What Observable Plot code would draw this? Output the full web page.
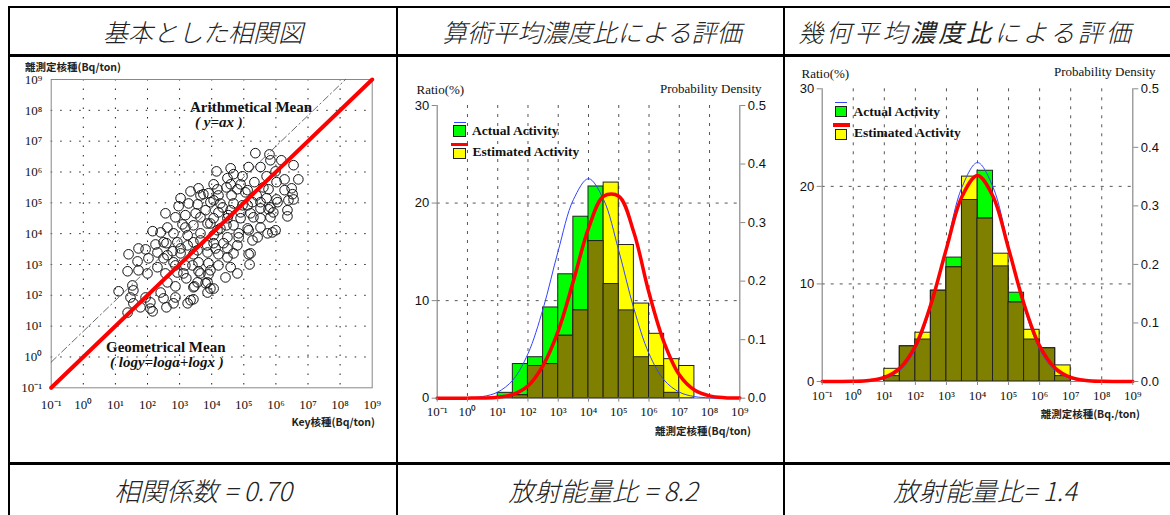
<!DOCTYPE html>
<html><head><meta charset="utf-8">
<script src="https://cdn.jsdelivr.net/npm/d3@7"></script>
<script src="https://cdn.jsdelivr.net/npm/@observablehq/plot@0.6"></script>
<style>
body{margin:0;background:#fff;}
#root{position:relative;width:1170px;height:515px;overflow:hidden;background:#fff;font-family:"Liberation Serif",serif;}
.t{position:absolute;white-space:nowrap;line-height:1;}
</style></head>
<body><div id="root"></div>
<script>
// ---------- DATA ----------
// panel 1: correlation scatter (log10 values)
const scatterKeyLog = [5.36,5.80,5.83,6.17,6.55,4.59,5.15,5.52,4.15,5.99,4.68,4.96,5.71,6.27,6.70,4.49,5.33,6.02,4.06,4.59,4.90,4.46,5.61,6.49,3.34,3.59,3.90,4.18,4.80,5.12,5.77,6.27,6.52,6.02,6.55,5.52,5.40,4.62,5.05,5.71,6.39,3.65,3.96,4.27,4.68,5.12,3.03,2.97,3.56,3.81,4.21,4.59,4.90,5.52,5.77,6.36,6.36,6.05,3.28,4.06,4.34,4.96,5.27,5.83,2.56,2.87,3.18,3.50,4.52,5.21,5.92,5.52,3.65,4.06,4.49,4.90,5.30,5.83,2.62,3.09,3.43,3.87,4.27,4.68,5.12,5.52,5.99,2.16,2.41,2.81,3.25,3.65,4.06,4.49,4.84,5.43,5.74,4.18,1.41,1.72,1.94,2.25,2.50,2.93,3.25,3.65,4.06,4.49,4.80,5.15,2.31,2.62,3.03,3.43,3.87,4.21,4.68,1.69,2.03,5.27,2.78,3.56,4.37,2.50,2.81,3.18,3.59,3.90,4.21,1.38,2.00,2.31,2.56,2.87,3.12,3.40,3.65,3.96,4.49,4.59,4.80,5.18,4.43,1.72,2.93,3.21,3.56,3.87,3.96,3.43,1.53,1.56,1.10,1.47,1.56,1.38,1.94,2.09,2.16,2.41,2.50,2.59,2.81,2.62,2.87,3.25,3.43,3.46,3.87,3.81,2.87,4.06,3.74,4.21,3.96,3.18,4.46,4.84,5.15,5.89,3.03,4.12,3.43,3.86,5.21,1.78,2.09,3.34,3.59,3.90,2.59];
const scatterNucLog = [6.61,6.57,6.38,6.38,6.22,6.12,6.16,6.16,6.02,6.02,5.93,5.86,5.86,5.76,5.76,5.80,5.67,5.67,5.60,5.60,5.60,5.50,5.50,5.47,5.37,5.47,5.31,5.44,5.44,5.41,5.44,5.41,5.28,5.11,5.11,5.02,5.24,5.24,5.34,5.15,5.08,5.24,5.02,4.98,4.98,4.92,5.15,4.89,4.95,4.76,4.69,4.76,4.69,4.82,4.79,4.76,4.56,5.02,4.98,5.08,4.85,4.92,5.02,4.85,4.66,4.53,4.60,4.66,4.60,4.66,4.69,4.50,4.53,4.50,4.50,4.50,4.53,4.53,4.20,4.30,4.27,4.33,4.17,4.27,4.17,4.20,4.11,4.08,4.04,4.01,3.95,4.01,3.95,3.88,3.88,3.88,4.01,4.11,3.33,3.52,3.49,3.65,3.72,3.72,3.62,3.78,3.69,3.52,3.62,3.33,3.39,3.30,3.36,3.33,3.39,3.33,3.36,3.10,3.20,3.78,3.43,3.46,3.69,3.20,3.07,2.97,3.07,3.04,2.97,2.78,2.71,2.91,2.71,2.97,2.71,2.97,2.71,2.81,3.23,2.91,2.71,3.00,2.58,2.81,2.74,2.55,2.42,2.42,2.22,2.26,2.32,2.16,2.13,1.93,1.74,1.44,1.93,1.57,1.48,2.09,1.90,1.61,1.74,2.42,2.29,1.74,1.87,2.29,2.09,2.39,1.93,2.22,5.28,5.24,4.33,4.20,4.27,4.01,4.11,4.04,3.52,3.52,3.72,3.62,3.36,1.61,1.77,1.84,2.78,2.68,3.69];
const arithRatio = 6.8;   // dash-dot line  y = a x
const geoRatio = 1.0;     // red line       log y = log a + log x

// histogram bins: lower edges in log10 (half-decade wide), ratios in %
const binLowLog = [1,1.5,2,2.5,3,3.5,4,4.5,5,5.5,6,6.5,7];
const arithActual    = [0.55,3.5,4.2,9.3,12.7,18.6,21.7,11.7,9.0,4.2,3.3,0.55,0];
const arithEstimated = [0,0.3,3.3,3.5,6.4,9.0,16.1,22.1,15.7,9.7,6.6,4.0,3.3];
const geoActual      = [0.55,3.6,4.3,9.3,12.7,18.6,21.6,11.8,9.1,4.3,3.4,0.55,0];
const geoEstimated   = [1.3,3.6,5.0,9.3,11.7,21.0,16.7,13.1,8.1,5.3,3.4,1.65,0];

// probability density curves sampled every half decade
const curveLog = [-1,-0.5,0,0.5,1,1.5,2,2.5,3,3.5,4,4.5,5,5.5,6,6.5,7,7.5,8,8.5,9];
const arithActualDensity    = [0,0.0001,0.0006,0.0028,0.0104,0.031,0.076,0.153,0.252,0.339,0.375,0.339,0.252,0.153,0.076,0.031,0.0104,0.0028,0.0006,0.0001,0];
const arithEstimatedDensity = [0,0,0.0001,0.0004,0.0017,0.0064,0.021,0.056,0.115,0.200,0.290,0.345,0.345,0.283,0.180,0.095,0.040,0.014,0.0040,0.0009,0.0002];
const geoActualDensity      = [0,0,0.0002,0.0010,0.0049,0.0186,0.055,0.127,0.231,0.332,0.374,0.332,0.231,0.127,0.055,0.0186,0.0049,0.0010,0.0002,0,0];
const geoEstimatedDensity   = [0,0.0001,0.0003,0.0017,0.0069,0.023,0.061,0.132,0.227,0.316,0.352,0.316,0.227,0.132,0.061,0.023,0.0069,0.0017,0.0003,0.0001,0];

const decadeExps = [-1,0,1,2,3,4,5,6,7,8,9];
const ratioTicks = [0,10,20,30];
const densityTicks = [0,0.1,0.2,0.3,0.4,0.5];

const headers = ["基本とした相関図", "算術平均濃度比による評価", "幾何平均<b>濃度比</b>による評価"];
const footers = ["相関係数 = 0.70", "放射能量比 = 8.2", "放射能量比= 1.4"];

// ---------- HELPERS ----------
const root = document.getElementById("root");
const sup = {"-":"⁻","0":"⁰","1":"¹","2":"²","3":"³","4":"⁴","5":"⁵","6":"⁶","7":"⁷","8":"⁸","9":"⁹"};
const fmtPow = v => "10" + String(Math.round(Math.log10(v))).split("").map(c => sup[c]).join("");
const decades = decadeExps.map(e => Math.pow(10, e));
const inner = decades.slice(1, -1);
const densScale = 60; // 0.5 density == 30 %

function addText(html, x, y, css, anchor) {
  const d = document.createElement("div");
  d.className = "t";
  d.innerHTML = html;
  const tx = anchor === "middle" ? "-50%" : anchor === "end" ? "-100%" : "0";
  d.style.left = x + "px"; d.style.top = y + "px";
  d.style.transform = `translate(${tx},-50%)`;
  Object.assign(d.style, css || {});
  root.appendChild(d);
  return d;
}
function addBox(x, y, w, h, css) {
  const d = document.createElement("div");
  d.style.position = "absolute"; d.style.boxSizing = "border-box";
  d.style.left = x + "px"; d.style.top = y + "px"; d.style.width = w + "px"; d.style.height = h + "px";
  Object.assign(d.style, css || {});
  root.appendChild(d);
  return d;
}
function place(svg, x, y) {
  svg.style.position = "absolute"; svg.style.left = x + "px"; svg.style.top = y + "px";
  root.appendChild(svg);
}

// ---------- PANEL 1 ----------
const corr = scatterKeyLog.map((k, i) => ({x: Math.pow(10, k), y: Math.pow(10, scatterNucLog[i])}));
const arithLine = [{x: 0.1, y: 0.1 * arithRatio}, {x: 1e9 / arithRatio, y: 1e9}];
const geoLine = [{x: 0.1, y: 0.1 * geoRatio}, {x: 1e9 / geoRatio, y: 1e9}];

const p1 = Plot.plot({
  width: 375, height: 395,
  marginLeft: 40.7, marginRight: 13.3, marginTop: 19, marginBottom: 67.7,
  x: {type: "log", domain: [0.1, 1e9]},
  y: {type: "log", domain: [0.1, 1e9]},
  style: {fontFamily: "'Liberation Serif', serif", fontSize: "13px", background: "transparent", color: "#111"},
  marks: [
    Plot.ruleX(inner, {stroke: "#222", strokeDasharray: "1.5,8"}),
    Plot.ruleY(inner, {stroke: "#222", strokeDasharray: "1.5,8"}),
    Plot.frame({stroke: "#888"}),
    Plot.dot(corr, {x: "x", y: "y", r: 4.8, stroke: "#111", strokeWidth: 1, fill: "none"}),
    Plot.line(arithLine, {x: "x", y: "y", stroke: "#444", strokeWidth: 0.8, strokeDasharray: "7,3,1.5,3"}),
    Plot.line(geoLine, {x: "x", y: "y", stroke: "#ff0000", strokeWidth: 4}),
    Plot.axisX(decades, {tickFormat: fmtPow, tickSize: 0, tickPadding: 12, label: null}),
    Plot.axisY(decades, {tickFormat: fmtPow, tickSize: 0, tickPadding: 9, label: null})
  ]
});
place(p1, 10, 60);

// ---------- HISTOGRAM PANELS ----------
function histPanel(actual, estimated, actDens, estDens, size) {
  const bins = binLowLog.map((lo, i) => ({
    x1: Math.pow(10, lo), x2: Math.pow(10, lo + 0.5),
    a: actual[i], e: estimated[i], m: Math.min(actual[i], estimated[i])
  }));
  const cA = curveLog.map((l, i) => ({x: Math.pow(10, l), y: actDens[i] * densScale}));
  const cE = curveLog.map((l, i) => ({x: Math.pow(10, l), y: estDens[i] * densScale}));
  const zero = () => 0;
  return Plot.plot({
    ...size,
    x: {type: "log", domain: [0.1, 1e9]},
    y: {domain: [0, 30]},
    style: {fontFamily: "'Liberation Serif', serif", fontSize: "13px", background: "transparent", color: "#111"},
    marks: [
      Plot.ruleX(inner, {stroke: "#555", strokeDasharray: "3,6"}),
      Plot.ruleY([10, 20], {stroke: "#555", strokeDasharray: "3,6"}),
      Plot.rect(bins.filter(d => d.a > 0), {x1: "x1", x2: "x2", y1: zero, y2: "a", fill: "#00ff00", stroke: "#222", strokeWidth: 1}),
      Plot.rect(bins.filter(d => d.e > 0), {x1: "x1", x2: "x2", y1: zero, y2: "e", fill: "#ffff00", stroke: "#222", strokeWidth: 1}),
      Plot.rect(bins.filter(d => d.m > 0), {x1: "x1", x2: "x2", y1: zero, y2: "m", fill: "#808000", stroke: "#222", strokeWidth: 1}),
      Plot.ruleX([0.1, 1e9], {stroke: "#888", strokeWidth: 1.2}),
      Plot.ruleY([0], {stroke: "#888"}),
      Plot.line(cA, {x: "x", y: "y", stroke: "#3344ff", strokeWidth: 1, curve: "catmull-rom"}),
      Plot.line(cE, {x: "x", y: "y", stroke: "#ff0000", strokeWidth: 3.5, curve: "catmull-rom"}),
      Plot.axisX(decades, {tickFormat: fmtPow, tickSize: 4, tickPadding: 5, stroke: "#888", label: null}),
      Plot.axisY(ratioTicks, {anchor: "left", tickSize: 5, tickPadding: 3, stroke: "#888", label: null, fontFamily: "'Liberation Sans', sans-serif"}),
      Plot.axisY(densityTicks.map(d => d * densScale), {anchor: "right", tickSize: 5, tickPadding: 3, stroke: "#888", label: null,
        tickFormat: d => (d / densScale).toFixed(1), fontFamily: "'Liberation Sans', sans-serif"})
    ]
  });
}

const p2 = histPanel(arithActual, arithEstimated, arithActualDensity, arithEstimatedDensity,
  {width: 380, height: 395, marginLeft: 36.7, marginRight: 40.7, marginTop: 45, marginBottom: 57.3});
place(p2, 400, 60);

const p3 = histPanel(geoActual, geoEstimated, geoActualDensity, geoEstimatedDensity,
  {width: 384, height: 397, marginLeft: 35.7, marginRight: 37.7, marginTop: 30.3, marginBottom: 74});
place(p3, 786, 58);

// ---------- TEXTS ----------
const cjkBold = {fontFamily: "'Noto Sans CJK JP', sans-serif", fontWeight: "700", fontSize: "10.5px", color: "#222"};
addText("離測定核種(Bq/ton)", 25, 67, cjkBold);
addText("Key核種(Bq/ton)", 375, 421.5, cjkBold, "end");
addText("離測定核種(Bq/ton)", 751, 431, cjkBold, "end");
addText("離測定核種(Bq./ton)", 1140, 414, cjkBold, "end");

const serif13 = {fontFamily: "'Liberation Serif', serif", fontSize: "13px", color: "#111"};
addText("Ratio(%)", 416.5, 88.5, serif13);
addText("Probability Density", 761.5, 87.5, serif13, "end");
addText("Ratio(%)", 801.5, 72.5, serif13);
addText("Probability Density", 1155.5, 70.5, serif13, "end");

const ann = {fontFamily: "'Liberation Serif', serif", fontSize: "15px", fontWeight: "700", color: "#111"};
addText("Arithmetical Mean", 190, 107, ann);
addText("( <i>y=ax</i> )", 195, 121.5, {...ann, fontStyle: "italic"});
addText("Geometrical Mean", 106, 347, ann);
addText("( <i>logy=loga+logx</i> )", 110, 362, {...ann, fontStyle: "italic"});

// legends
const legText = {fontFamily: "'Liberation Serif', serif", fontSize: "13.5px", fontWeight: "700", color: "#111"};
function legend(x0, y0) {
  addBox(x0 + 0.5, y0, 12, 1.3, {background: "#3344ff"});
  addBox(x0, y0 + 3.5, 12.5, 11.5, {background: "#00ff00", border: "1px solid #222"});
  addText("Actual Activity", x0 + 19, y0 + 9.5, legText);
  addBox(x0 - 2, y0 + 21, 17, 3.5, {background: "#ff0000"});
  addBox(x0, y0 + 26.5, 12.5, 11, {background: "#ffff00", border: "1px solid #222"});
  addText("Estimated Activity", x0 + 19.5, y0 + 30.5, legText);
}
legend(453, 121.5);
legend(834.5, 102);

// table headers & footers
const hdr = {fontFamily: "'Noto Sans CJK JP', sans-serif", fontSize: "25px", fontStyle: "italic", fontWeight: "300", color: "#222"};
addText(headers[0], 203, 31, hdr, "middle");
addText(headers[1], 592, 31, hdr, "middle");
addText(headers[2], 966, 31, {...hdr, letterSpacing: "3px"}, "middle");
const ftr = {fontFamily: "'Noto Sans CJK JP', sans-serif", fontSize: "26px", fontStyle: "italic", fontWeight: "300", color: "#222"};
addText(footers[0], 203, 490, ftr, "middle");
addText(footers[1], 603, 490, ftr, "middle");
addText(footers[2], 985, 490, ftr, "middle");

// table lines
addBox(8, 6, 1162, 2, {background: "#000"});
addBox(8, 6, 2, 509, {background: "#000"});
addBox(8, 54, 1162, 2.5, {background: "#000"});
addBox(396, 6, 2, 509, {background: "#000"});
addBox(783, 6, 2, 509, {background: "#000"});
addBox(8, 462, 1162, 3, {background: "#000"});
</script>
</body></html>
